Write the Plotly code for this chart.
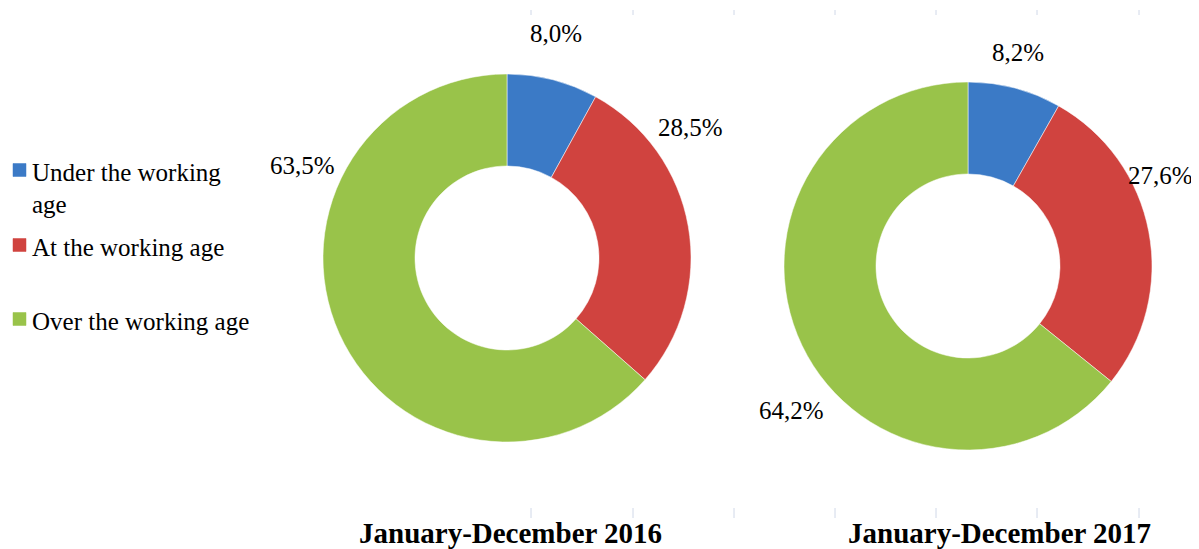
import plotly.graph_objects as go

# ---- data ----
categories = ["Under the working age", "At the working age", "Over the working age"]
values_2016 = [8.0, 28.5, 63.5]
values_2017 = [8.2, 27.6, 64.2]
period_titles = ["January-December 2016", "January-December 2017"]
legend_lines = [["Under the working", "age"], ["At the working age"], ["Over the working age"]]
colors = ["#3B7AC6", "#D0433F", "#99C34A"]

# The page body has an 8px margin, so the figure is drawn 8px in from the corner.
OFF = 8
W, H = 1199 - OFF, 549 - OFF
FONT = "Liberation Serif"


def px(x):
    return (x - OFF) / W


def py(y):
    return 1 - (y - OFF) / H


def fmt(v):
    return f"{v:.1f}".replace(".", ",") + "%"


fig = go.Figure()

# pie geometry (reference pixel centers / radius)
pies = [
    (values_2016, 507, 258, 184),
    (values_2017, 968, 266, 184),
]
for vals, cx, cy, r in pies:
    fig.add_trace(go.Pie(
        labels=categories,
        values=vals,
        hole=0.5,
        sort=False,
        direction="clockwise",
        rotation=0,
        marker=dict(colors=colors, line=dict(color="rgba(255,255,255,0.5)", width=1)),
        textinfo="none",
        hoverinfo="label+percent",
        showlegend=False,
        domain=dict(x=[px(cx - r), px(cx + r)], y=[py(cy + r), py(cy - r)]),
    ))

# data label positions (reference pixel) for each pie's slices
label_pos = [
    [(556, 34), (690, 127), (302, 166)],
    [(1018, 52), (1160, 176), (791, 410)],
]
annotations = []
for (vals, *_), positions in zip(pies, label_pos):
    for v, (lx, ly) in zip(vals, positions):
        annotations.append(dict(
            x=px(lx), y=py(ly), xref="paper", yref="paper",
            text=fmt(v), showarrow=False,
            font=dict(family=FONT, size=25, color="#000000"),
            xanchor="center", yanchor="middle",
        ))

# titles under each pie
title_pos = [(510, 533), (1000, 533)]
for t, (tx, ty) in zip(period_titles, title_pos):
    annotations.append(dict(
        x=px(tx), y=py(ty), xref="paper", yref="paper",
        text=f"<b>{t}</b>", showarrow=False,
        font=dict(family=FONT, size=29, color="#000000"),
        xanchor="center", yanchor="middle",
    ))

# custom legend
legend_square_y = [170, 245, 319]
legend_line_y = [[172, 205], [247], [321]]
shapes = []
for col, sy, lines, ys in zip(colors, legend_square_y, legend_lines, legend_line_y):
    shapes.append(dict(
        type="rect", xref="paper", yref="paper",
        x0=px(13), x1=px(26), y0=py(sy + 6.5), y1=py(sy - 6.5),
        fillcolor=col, line=dict(color=col, width=0.5),
    ))
    for text, ly in zip(lines, ys):
        annotations.append(dict(
            x=px(30), y=py(ly), xref="paper", yref="paper",
            text=text, showarrow=False,
            font=dict(family=FONT, size=25, color="#000000"),
            xanchor="left", yanchor="middle",
        ))

# faint tick marks (chart frame artefacts)
tick_x = [531, 633, 734, 835, 936, 1037, 1139]
for tx in tick_x:
    for y0, y1 in [(10, 15), (508, 518)]:
        shapes.append(dict(
            type="line", xref="paper", yref="paper",
            x0=px(tx), x1=px(tx), y0=py(y0), y1=py(y1),
            line=dict(color="#D0D8E8", width=1),
        ))

fig.update_layout(
    width=W, height=H,
    margin=dict(l=0, r=0, t=0, b=0),
    paper_bgcolor="#FFFFFF",
    plot_bgcolor="#FFFFFF",
    annotations=annotations,
    shapes=shapes,
    showlegend=False,
)

fig.write_html("out.html")
